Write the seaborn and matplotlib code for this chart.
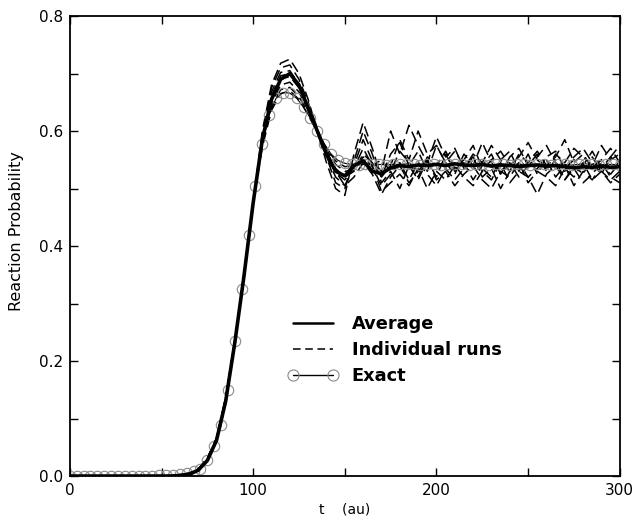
import numpy as np
import pandas as pd
import matplotlib
matplotlib.use("Agg")
import matplotlib.pyplot as plt
from matplotlib.lines import Line2D
from matplotlib.ticker import MultipleLocator, FormatStrFormatter
import seaborn as sns

# time grids (au)
T_RUN = np.arange(0, 301, 5)          # runs + average sampled every 5 au
T_EXACT = np.arange(0, 300.01, 3.75)  # exact result, one circle per point

# rise (t = 0 .. 100) shared by every run
RUN_RISE = [0.0] * 12 + [0.001, 0.004, 0.012, 0.030, 0.065, 0.135, 0.235, 0.350, 0.475]

AVERAGE = [0.0] * 12 + [0.001, 0.003, 0.010, 0.027, 0.062, 0.130, 0.232, 0.348, 0.475] + [
    0.585, 0.655, 0.690, 0.700, 0.680, 0.640, 0.600, 0.560, 0.530, 0.522,
    0.540, 0.548, 0.530, 0.526, 0.536, 0.540, 0.538, 0.541, 0.540, 0.542,
    0.540, 0.543, 0.541, 0.540, 0.542, 0.539, 0.541, 0.540, 0.538, 0.540,
    0.541, 0.539, 0.540, 0.538, 0.536, 0.538, 0.537, 0.539, 0.537, 0.538]

# individual runs, t = 105 .. 300
RUN_1 = [0.600, 0.680, 0.718, 0.725, 0.700, 0.655, 0.600, 0.545, 0.500, 0.488,
         0.560, 0.615, 0.570, 0.520, 0.540, 0.585, 0.550, 0.600, 0.560, 0.575,
         0.545, 0.565, 0.540, 0.555, 0.530, 0.550, 0.565, 0.540, 0.555, 0.580,
         0.550, 0.535, 0.560, 0.545, 0.570, 0.555, 0.540, 0.575, 0.550, 0.560]
RUN_2 = [0.595, 0.675, 0.710, 0.715, 0.690, 0.650, 0.605, 0.555, 0.510, 0.500,
         0.548, 0.600, 0.560, 0.510, 0.530, 0.500, 0.540, 0.515, 0.550, 0.520,
         0.560, 0.530, 0.545, 0.515, 0.540, 0.560, 0.525, 0.545, 0.520, 0.540,
         0.560, 0.530, 0.550, 0.515, 0.540, 0.525, 0.555, 0.530, 0.515, 0.530]
RUN_3 = [0.592, 0.668, 0.702, 0.705, 0.682, 0.642, 0.598, 0.556, 0.520, 0.505,
         0.540, 0.585, 0.548, 0.530, 0.600, 0.560, 0.610, 0.575, 0.545, 0.590,
         0.555, 0.570, 0.535, 0.560, 0.545, 0.575, 0.550, 0.530, 0.560, 0.545,
         0.565, 0.540, 0.555, 0.585, 0.545, 0.560, 0.535, 0.550, 0.570, 0.545]
RUN_4 = [0.588, 0.662, 0.696, 0.700, 0.678, 0.640, 0.600, 0.560, 0.528, 0.515,
         0.535, 0.570, 0.540, 0.495, 0.510, 0.525, 0.505, 0.535, 0.500, 0.530,
         0.515, 0.540, 0.520, 0.505, 0.530, 0.515, 0.545, 0.510, 0.530, 0.520,
         0.490, 0.525, 0.540, 0.515, 0.535, 0.510, 0.525, 0.545, 0.520, 0.510]
RUN_5 = [0.585, 0.655, 0.690, 0.695, 0.675, 0.640, 0.602, 0.565, 0.535, 0.520,
         0.530, 0.560, 0.545, 0.520, 0.560, 0.580, 0.540, 0.565, 0.530, 0.575,
         0.545, 0.525, 0.560, 0.540, 0.580, 0.545, 0.525, 0.555, 0.570, 0.540,
         0.555, 0.575, 0.545, 0.530, 0.555, 0.570, 0.545, 0.525, 0.555, 0.575]
RUN_6 = [0.580, 0.648, 0.680, 0.685, 0.668, 0.636, 0.602, 0.568, 0.542, 0.530,
         0.532, 0.555, 0.538, 0.505, 0.525, 0.545, 0.515, 0.545, 0.525, 0.505,
         0.535, 0.515, 0.535, 0.555, 0.520, 0.535, 0.500, 0.530, 0.545, 0.520,
         0.535, 0.550, 0.520, 0.540, 0.505, 0.530, 0.515, 0.540, 0.525, 0.545]
RUN_7 = [0.576, 0.642, 0.672, 0.676, 0.660, 0.632, 0.600, 0.570, 0.548, 0.538,
         0.540, 0.550, 0.540, 0.550, 0.530, 0.565, 0.545, 0.520, 0.555, 0.540,
         0.565, 0.535, 0.550, 0.575, 0.535, 0.520, 0.550, 0.565, 0.530, 0.560,
         0.525, 0.555, 0.565, 0.535, 0.550, 0.540, 0.565, 0.535, 0.555, 0.540]
RUN_8 = [0.572, 0.636, 0.665, 0.670, 0.655, 0.628, 0.598, 0.565, 0.530, 0.505,
         0.520, 0.545, 0.525, 0.490, 0.520, 0.540, 0.510, 0.530, 0.550, 0.515,
         0.530, 0.505, 0.525, 0.540, 0.515, 0.500, 0.530, 0.520, 0.545, 0.510,
         0.530, 0.520, 0.505, 0.535, 0.520, 0.545, 0.515, 0.530, 0.510, 0.525]
RUN_TAILS = [RUN_1, RUN_2, RUN_3, RUN_4, RUN_5, RUN_6, RUN_7, RUN_8]

EXACT = [0.0] * 13 + [0.001, 0.001, 0.002, 0.003, 0.005, 0.008, 0.013,
         0.028, 0.052, 0.088, 0.150, 0.235, 0.325, 0.420, 0.505, 0.578, 0.628,
         0.657, 0.667, 0.666, 0.657, 0.642, 0.622, 0.600, 0.578, 0.560, 0.549,
         0.544, 0.542, 0.541, 0.542, 0.543, 0.542, 0.541, 0.542, 0.542, 0.543,
         0.542, 0.541, 0.542, 0.542, 0.541, 0.542, 0.543, 0.542, 0.541, 0.542,
         0.542, 0.541, 0.542, 0.542, 0.541, 0.542, 0.542, 0.541, 0.542, 0.542,
         0.541, 0.542, 0.542, 0.541, 0.542, 0.543, 0.542, 0.541, 0.542, 0.542,
         0.541]


def main() -> None:
    sns.set_theme(style="ticks")
    plt.rcParams["font.family"] = ["DejaVu Sans"]
    plt.rcParams.update({"text.color": "black", "axes.labelcolor": "black",
                         "xtick.color": "black", "ytick.color": "black"})

    runs = pd.concat(
        [pd.DataFrame({"t": T_RUN, "p": RUN_RISE + tail, "run": i}) for i, tail in enumerate(RUN_TAILS)],
        ignore_index=True,
    )
    avg = pd.DataFrame({"t": T_RUN, "p": AVERAGE})
    exact = pd.DataFrame({"t": T_EXACT, "p": EXACT})

    fig = plt.figure(figsize=(6.35, 5.18), dpi=100)
    ax = fig.add_axes([0.110, 0.081, 0.866, 0.888])

    dash = (0, (7, 3.5))
    for i in range(len(RUN_TAILS)):
        sns.lineplot(data=runs[runs["run"] == i], x="t", y="p", ax=ax, color="black",
                     linewidth=1.1, linestyle=dash, estimator=None)
    sns.lineplot(data=exact, x="t", y="p", ax=ax, color="black", linewidth=0.8,
                 marker="o", markersize=7.5, markerfacecolor="none",
                 markeredgecolor="#8a8a8a", markeredgewidth=0.8, estimator=None)
    sns.lineplot(data=avg, x="t", y="p", ax=ax, color="black", linewidth=2.6, estimator=None)

    ax.set_xlim(0, 300)
    ax.set_ylim(0, 0.8)
    ax.xaxis.set_major_locator(MultipleLocator(100))
    ax.xaxis.set_minor_locator(MultipleLocator(50))
    ax.yaxis.set_major_locator(MultipleLocator(0.2))
    ax.yaxis.set_minor_locator(MultipleLocator(0.1))
    ax.yaxis.set_major_formatter(FormatStrFormatter("%.1f"))
    ax.tick_params(which="both", direction="in", top=True, right=True, length=6,
                   width=1.0, color="black", labelcolor="black", labelsize=11, pad=5)
    for s in ax.spines.values():
        s.set_linewidth(1.3)
        s.set_color("black")

    ax.set_xlabel("t    (au)", fontsize=10, labelpad=3.5)
    ax.set_ylabel("Reaction Probability", fontsize=11.5)
    ax.yaxis.set_label_coords(-0.084, 0.533)

    handles = [
        Line2D([], [], color="black", linewidth=1.8),
        Line2D([], [], color="black", linewidth=1.1, linestyle=(0, (5, 3))),
        Line2D([], [], color="black", linewidth=1.0, marker="o", markersize=8,
               markerfacecolor="none", markeredgecolor="#8a8a8a", markeredgewidth=0.8),
    ]
    labels = ["Average", "Individual runs", "Exact"]
    ax.legend(handles, labels, loc="upper left", bbox_to_anchor=(0.367, 0.384),
              frameon=False, numpoints=2, handlelength=2.85, handletextpad=0.75,
              labelspacing=0.45, prop={"weight": "bold", "size": 12.8})

    fig.savefig("out.png", dpi=100)
    plt.close(fig)


if __name__ == "__main__":
    main()
